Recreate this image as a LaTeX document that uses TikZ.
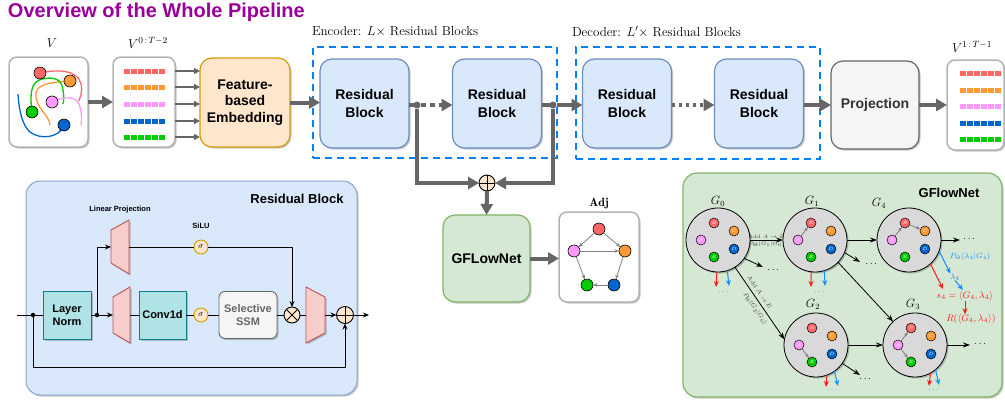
\RequirePackage{fix-cm}
\documentclass[tikz,border=0pt]{standalone}
\usepackage{amsmath}
\usepackage{fontspec}
\setsansfont{Liberation Sans}
\usetikzlibrary{arrows.meta,shadows}
\definecolor{cred}{HTML}{FF6666}
\definecolor{corange}{HTML}{FF9933}
\definecolor{cpink}{HTML}{FF99FF}
\definecolor{cblue}{HTML}{0066CC}
\definecolor{cgreen}{HTML}{00CC00}
\definecolor{garrow}{HTML}{666666}
\definecolor{boxgray}{HTML}{B3B3B3}
\definecolor{rbfill}{HTML}{DAE8FC}
\definecolor{rbdraw}{HTML}{6C8EBF}
\definecolor{fefill}{HTML}{FFE6CC}
\definecolor{fedraw}{HTML}{D79B00}
\definecolor{gnfill}{HTML}{D5E8D4}
\definecolor{gndraw}{HTML}{82B366}
\definecolor{tealfill}{HTML}{B0E3E6}
\definecolor{tealdraw}{HTML}{0E8088}
\definecolor{trfill}{HTML}{F8CECC}
\definecolor{trdraw}{HTML}{B85450}
\definecolor{dashblue}{HTML}{007FFF}
\definecolor{titlepurple}{HTML}{990099}
\definecolor{prjfill}{HTML}{F5F5F5}
\definecolor{txtgray}{HTML}{333333}
\definecolor{circgray}{HTML}{D9D9D9}
\definecolor{ared}{HTML}{FF1A1A}
\definecolor{ablue}{HTML}{1A8CFF}
\newcommand{\mkgraph}[3]{%
  \node[gcirc] (#1) at (#2,#3) {};
  \node[sn, fill=cpink]   (#1A) at ({#2-17},{#3})    {$A$};
  \node[sn, fill=cred]    (#1B) at ({#2-4},{#3-17})  {$B$};
  \node[sn, fill=corange] (#1C) at ({#2+16},{#3-9})  {$C$};
  \node[sn, fill=cblue]   (#1D) at ({#2+16},{#3+9})  {$D$};
  \node[sn, fill=cgreen]  (#1E) at ({#2-4},{#3+17})  {$E$};
}
\begin{document}
\begin{tikzpicture}[x=1pt,y=-1pt,
  every node/.style={inner sep=0pt, outer sep=0pt},
  shad/.style={drop shadow={shadow xshift=1.5pt,shadow yshift=-1.5pt,opacity=0.22,fill=black}},
  datbox/.style={draw=boxgray, fill=white, line width=1.5pt, rounded corners=8pt, shad},
  febox/.style={draw=fedraw, fill=fefill, line width=1.2pt, rounded corners=12pt, shad, align=center,
     font=\fontsize{14}{16.5}\selectfont\sffamily\bfseries, minimum width=90pt, minimum height=89pt},
  resbox/.style={draw=rbdraw, fill=rbfill, line width=1.2pt, rounded corners=12pt, shad, align=center,
     font=\fontsize{14}{18}\selectfont\sffamily\bfseries, minimum width=89pt, minimum height=89pt},
  projbox/.style={draw=garrow, fill=prjfill, line width=1.2pt, rounded corners=12pt, shad, text=txtgray,
     font=\fontsize{14}{18}\selectfont\sffamily\bfseries, minimum width=88pt, minimum height=88pt},
  gnbox/.style={draw=gndraw, fill=gnfill, line width=1.2pt, rounded corners=12pt, shad,
     font=\fontsize{14}{18}\selectfont\sffamily\bfseries, minimum width=87pt, minimum height=87pt},
  dashbox/.style={draw=dashblue, line width=2.5pt, dash pattern=on 7pt off 5pt},
  bigarr/.style={draw=garrow, line width=4pt, -{Triangle[length=11pt,width=12pt]}},
  bigline/.style={draw=garrow, line width=4pt},
  medarr/.style={draw=garrow, line width=1.5pt, -{Triangle[length=6pt,width=6pt]}},
  gdot/.style={circle, fill=garrow, minimum size=7pt},
  blk/.style={draw=black, line width=0.9pt},
  blkarr/.style={blk, -{Stealth[length=6pt,width=5pt]}},
  bdot/.style={circle, fill=black, minimum size=4.5pt},
  tealbox/.style={draw=tealdraw, fill=tealfill, line width=0.9pt, shad, align=center,
     font=\fontsize{11}{13}\selectfont\sffamily\bfseries},
  trap/.style={draw=trdraw, fill=trfill, line width=0.9pt, shad},
  sig/.style={circle, draw=fedraw, fill=fefill, minimum size=14pt, line width=0.9pt, font=\fontsize{8}{8}\selectfont},
  opx/.style={circle, draw=black, fill=fefill, minimum size=16pt, line width=0.9pt,
     path picture={\draw[line width=0.9pt] (path picture bounding box.north west) -- (path picture bounding box.south east)
       (path picture bounding box.north east) -- (path picture bounding box.south west);}},
  opp/.style={circle, draw=black, fill=fefill, minimum size=#1, line width=0.9pt,
     path picture={\draw[line width=0.9pt] (path picture bounding box.north) -- (path picture bounding box.south)
       (path picture bounding box.east) -- (path picture bounding box.west);}},
  gcirc/.style={circle, draw=black, fill=circgray, minimum size=64pt, line width=0.8pt, shad},
  sn/.style={circle, draw=black, line width=0.5pt, minimum size=10pt, text=white, font=\fontsize{4.5}{5}\selectfont},
  an/.style={circle, draw=black, line width=0.6pt, minimum size=12pt},
  garr/.style={draw=gray, line width=0.8pt, -{Stealth[length=4.5pt,width=3.5pt]}},
  karr/.style={draw=black, line width=0.8pt, -{Stealth[length=7pt,width=5pt]}},
  rarr/.style={draw=ared, line width=1pt, -{Stealth[length=6pt,width=5pt]}},
  barr/.style={draw=ablue, line width=1pt, -{Stealth[length=6pt,width=5pt]}},
  lab5/.style={font=\fontsize{5}{6}\selectfont, text=black!75},
  serif13/.style={font=\fontsize{13}{15}\selectfont},
  glab/.style={font=\fontsize{12}{14}\selectfont},
  kdots/.style={font=\fontsize{10}{10}\selectfont},
  bdots/.style={font=\fontsize{9}{9}\selectfont, text=ablue},
]
\useasboundingbox (0,0) rectangle (1005,400);

% ---------- title ----------
\node[anchor=west, font=\fontsize{20}{24}\selectfont\sffamily\bfseries, text=titlepurple] (title) at (8,12) {Overview of the Whole Pipeline};

% ---------- top row ----------
\node[serif13] (vlab) at (52,43) {$V$};
\node[datbox, minimum width=79pt, minimum height=90pt] (vbox) at (48.5,102) {};
\draw[cred, line width=1.3pt] (40,73) .. controls (58,69) and (78,70) .. (81,84) .. controls (83,92) and (80,97) .. (79,101);
\draw[corange, line width=1.3pt] (70,81) .. controls (52,82) and (33,84) .. (36,97) .. controls (38,110) and (49,115) .. (50,125);
\draw[cgreen, line width=1.3pt] (32,112) .. controls (30,95) and (30,82) .. (42,79) .. controls (55,76) and (62,80) .. (63,90) .. controls (64,96) and (64,100) .. (63,104);
\draw[cpink, line width=1.3pt] (52,102) .. controls (62,97) and (75,95) .. (79,104) .. controls (82,112) and (82,120) .. (81,125);
\draw[cblue, line width=1.3pt] (64,125) .. controls (60,138) and (40,140) .. (30,132) .. controls (22,125) and (19,110) .. (18,94);
\node[an, fill=cred] (vr) at (40,73) {};
\node[an, fill=corange] (vo) at (70,81) {};
\node[an, fill=cpink] (vp) at (52,102) {};
\node[an, fill=cgreen] (vg) at (32,112) {};
\node[an, fill=cblue] (vb) at (64,125) {};

\node[serif13] (v0lab) at (148,43) {$V^{0\,:\,T-2}$};
\node[datbox, minimum width=62pt, minimum height=90pt] (v0box) at (144,102) {};
\foreach \yy/\cc in {71/cred,87/corange,104/cpink,121/cblue,137/cgreen}{
  \draw[\cc, line width=5pt, dash pattern=on 5.5pt off 1.5pt] (124,\yy) -- (166,\yy);
}
\node[febox] (feat) at (245,102.5) {Feature-\\based\\Embedding};
\foreach \yy in {71,87,104,121,137}{
  \draw[medarr] (v0box.east |- 0,\yy) -- (feat.west |- 0,\yy);
}
\draw[bigarr] (vbox.east) -- (v0box.west);

\node[dashbox, minimum width=244pt, minimum height=111pt] (enc) at (435,102.5) {};
\node[anchor=west, serif13] (enclab) at (312,32) {Encoder: $L\times$ Residual Blocks};
\node[dashbox, minimum width=244pt, minimum height=112pt] (dec) at (698,103) {};
\node[anchor=west, serif13] (declab) at (572,32) {Decoder: $L'\times$ Residual Blocks};

\node[resbox] (rb1) at (364.5,103.5) {Residual\\Block};
\node[resbox] (rb2) at (497,103.5) {Residual\\Block};
\node[resbox] (rb3) at (627,103.5) {Residual\\Block};
\node[resbox] (rb4) at (759,103.5) {Residual\\Block};
\node[projbox] (proj) at (875,105) {Projection};

\node[serif13] (v1lab) at (972,47) {$V^{1\,:\,T-1}$};
\node[datbox, minimum width=57pt, minimum height=90pt] (v1box) at (975.5,105) {};
\foreach \yy/\cc in {73/cred,90/corange,106/cpink,123/cblue,139/cgreen}{
  \draw[\cc, line width=5pt, dash pattern=on 5.5pt off 1.5pt] (960,\yy) -- (1002,\yy);
}

\draw[bigarr] (feat.east) -- (feat.east -| rb1.west);
\node[gdot] (j1) at (417,105) {};
\node[gdot] (j2) at (553,105) {};
\draw[bigline, dash pattern=on 5pt off 4pt] (rb1.east |- j1) -- (j1);
\draw[bigarr, dash pattern=on 5pt off 4pt] (j1) -- (rb2.west |- j1);
\draw[bigline] (rb2.east |- j2) -- (j2);
\draw[bigarr] (j2) -- (rb3.west |- j2);
\draw[bigarr, dash pattern=on 3.5pt off 3.5pt] (rb3.east |- 0,105) -- (rb4.west |- 0,105);
\draw[bigarr] (rb4.east |- 0,105) -- (proj.west |- 0,105);
\draw[bigarr] (proj.east) -- (v1box.west);

% ---------- fusion + GFLowNet + Adj ----------
\node[opp=16pt] (jp) at (487,183) {};
\node[gnbox] (gnet) at (486.5,258.5) {GFLowNet};
\draw[bigarr] (j1) |- (jp.west);
\draw[bigarr] (j2) |- (jp.east);
\draw[bigarr] (jp.south) -- (gnet.north);

\node[font=\fontsize{12}{14}\selectfont] (adjlab) at (599,204) {$\mathbf{Adj}$};
\node[datbox, minimum width=80pt, minimum height=90pt] (adj) at (599,257) {};
\draw[bigarr] (gnet.east) -- (gnet.east -| adj.west);
\node[an, fill=cred] (ar) at (599,229) {};
\node[an, fill=cpink] (ap) at (574,251) {};
\node[an, fill=corange] (ao) at (625,251) {};
\node[an, fill=cgreen] (ag) at (587,285) {};
\node[an, fill=cblue] (ab) at (614,285) {};
\draw[garr] (ar) -- (ap);
\draw[garr] (ar) -- (ao);
\draw[garr] (ap) -- (ao);
\draw[garr] (ap) -- (ag);
\draw[garr] (ao) -- (ab);
\draw[garr] (ab) -- (ag);

% ---------- Residual block detail ----------
\node[draw=rbdraw!80, fill=rbfill, rounded corners=14pt, line width=1pt, minimum width=331pt, minimum height=214pt, shad] (rbpanel) at (191.5,288) {};
\node[font=\fontsize{13}{15}\selectfont\sffamily\bfseries] (rbtitle) at (297,199) {Residual Block};
\node[font=\fontsize{7.5}{9}\selectfont\sffamily\bfseries] (lplab) at (120,210) {Linear Projection};
\node[font=\fontsize{7.5}{9}\selectfont\sffamily\bfseries] (silulab) at (201,226) {SiLU};

\node[tealbox, minimum width=48pt, minimum height=48pt] (ln) at (67,315) {Layer\\Norm};
\node[tealbox, minimum width=47pt, minimum height=48pt] (conv) at (162.5,315) {Conv1d};
\node[draw=garrow, fill=prjfill, rounded corners=6pt, line width=0.9pt, minimum width=58pt, minimum height=47pt, shad,
      align=center, text=black!60, font=\fontsize{11}{13}\selectfont\sffamily\bfseries] (ssm) at (248,315) {Selective\\SSM};
\path[trap] (111,230) -- (129,220) -- (129,274) -- (111,263) -- cycle;
\path[trap] (113,297) -- (130,287) -- (130,343) -- (113,333) -- cycle;
\path[trap] (306,287) -- (325,297) -- (325,333) -- (306,343) -- cycle;
\coordinate (tuL) at (111,247);
\coordinate (tuR) at (129,247);
\coordinate (tlL) at (113,315);
\coordinate (tlR) at (130,315);
\coordinate (trL) at (306,315);
\coordinate (trR) at (325,315);
\node[sig] (sg1) at (201,247) {$\sigma$};
\node[sig] (sg2) at (201,315) {$\sigma$};
\node[opx] (ox) at (292,315) {};
\node[opp=17pt] (op) at (345,315) {};
\coordinate (rin) at (17,315);
\coordinate (rout) at (369,315);
\coordinate (fb) at (345,367);
\node[bdot] (d1) at (33,315) {};
\node[bdot] (d2) at (97,315) {};

\draw[blk] (rin) -- (d1) -- (ln.west);
\draw[blk] (ln.east) -- (d2);
\draw[blkarr] (d2) -- (tlL);
\draw[blkarr] (d2) |- (tuL);
\draw[blk] (tuR) -- (sg1.west);
\draw[blkarr] (sg1.east) -| (ox.north);
\draw[blk] (tlR) -- (conv.west);
\draw[blk] (conv.east) -- (sg2.west);
\draw[blk] (sg2.east) -- (ssm.west);
\draw[blk] (ssm.east) -- (ox.west);
\draw[blk] (ox.east) -- (trL);
\draw[blkarr] (trR) -- (op.west);
\draw[blkarr] (op.east) -- (rout);
\draw[blkarr] (d1) |- (fb) -- (op.south);

% ---------- GFlowNet panel ----------
\node[draw=gndraw, fill=gnfill, rounded corners=14pt, line width=1.2pt, minimum width=319pt, minimum height=224pt, shad] (gpanel) at (842.5,285) {};
\node[font=\fontsize{13}{15}\selectfont\sffamily\bfseries] (gptitle) at (949,193) {GFlowNet};

\mkgraph{G0}{718}{240}
\mkgraph{G1}{815}{240}
\mkgraph{G4}{909}{240}
\mkgraph{G2}{816}{345}
\mkgraph{G3}{915}{345}
\node[glab] (g0lab) at (718,201) {$G_0$};
\node[glab] (g1lab) at (812,201) {$G_1$};
\node[glab] (g4lab) at (879,203) {$G_4$};
\node[glab] (g2lab) at (813,304) {$G_2$};
\node[glab] (g3lab) at (913,304) {$G_3$};

\draw[garr] (G1A) -- (G1B);
\draw[garr] (G4A) -- (G4B);
\draw[garr] (G4B) -- (G4C);
\draw[garr] (G2A) -- (G2E);
\draw[garr] (G3A) -- (G3B);
\draw[garr] (G3A) -- (G3E);

\draw[karr] (G0.east) -- node[above=1.5pt, lab5] (l01a) {Add $A\rightarrow B$} node[below=1.5pt, lab5] (l01b) {$P_\Theta(G_1|G_0)$} (G1.west);
\draw[karr] (G0.302) -- node[pos=0.4, sloped, above=4pt, lab5, font=\fontsize{6}{7}\selectfont] (l02a) {Add $A\rightarrow E$} node[pos=0.52, sloped, below=4pt, lab5, font=\fontsize{6}{7}\selectfont] (l02b) {$P_\Theta(G_2|G_0)$} (G2.170);
\draw[karr] (G1.east) -- (G4.west);
\draw[karr] (G1.316) -- (G3.133);
\draw[karr] (G2.east) -- (G3.west);

\coordinate (e0) at (763,267);
\coordinate (e1) at (860,262);
\coordinate (e2) at (860,375);
\coordinate (e4) at (960,240);
\coordinate (e3) at (970,345);
\draw[karr] (G0.325) -- (e0);
\draw[karr] (G1.337) -- (e1);
\draw[karr] (G2.325) -- (e2);
\draw[karr] (G4.east) -- (e4);
\draw[karr] (G3.east) -- (e3);
\node[kdots] (k0) at (774,270) {$\cdots$};
\node[kdots] (k1) at (872,264) {$\cdots$};
\node[kdots] (k2) at (866,379) {$\cdots$};
\node[kdots] (k4) at (970,239) {$\cdots$};
\node[kdots] (k3) at (981,344) {$\cdots$};

% red / blue outputs
\coordinate (r0) at (716,287); \coordinate (b0) at (729,286);
\coordinate (r1) at (811,287); \coordinate (b1) at (825,286);
\coordinate (r2) at (826,387); \coordinate (b2) at (838,386);
\coordinate (r3) at (929,386); \coordinate (b3) at (939,385);
\draw[rarr] (G0.268) -- (r0);
\draw[barr] (G0.287) -- (b0);
\draw[rarr] (G1.263) -- (r1);
\draw[barr] (G1.287) -- (b1);
\draw[rarr] (G2.290) -- (r2);
\draw[barr] (G2.305) -- (b2);
\draw[rarr] (G3.299) -- (r3);
\draw[barr] (G3.310) -- (b3);
\node[bdots] (bd0) at (724,292) {$\cdots$};
\node[bdots] (bd1) at (820,292) {$\cdots$};
\node[bdots] (bd2) at (833,390) {$\cdots$};
\node[bdots] (bd3) at (934,390) {$\cdots$};

\node[font=\fontsize{7.5}{9}\selectfont, text=ablue] (plab) at (970,257) {$P_\Theta(\lambda_4|G_4)$};
\node[font=\fontsize{8}{9}\selectfont, text=ablue] (lam) at (955,277) {$\lambda_4$};
\node[font=\fontsize{9.5}{11}\selectfont, text=ared] (s4) at (965,296) {$s_4=\langle G_4,\lambda_4\rangle$};
\node[font=\fontsize{9.5}{11}\selectfont, text=ared] (R4) at (971,319) {$R(\langle G_4,\lambda_4\rangle)$};
\coordinate (s4G) at (943,289);
\coordinate (s4L) at (963,290);
\draw[barr] (G4.340) -- (lam.north west);
\draw[barr] (lam.south) -- (s4L);
\draw[rarr] (G4.312) -- (s4G);
\draw[rarr] (s4.south -| 965,0) -- (R4.north -| 965,0);
\end{tikzpicture}
\end{document}
